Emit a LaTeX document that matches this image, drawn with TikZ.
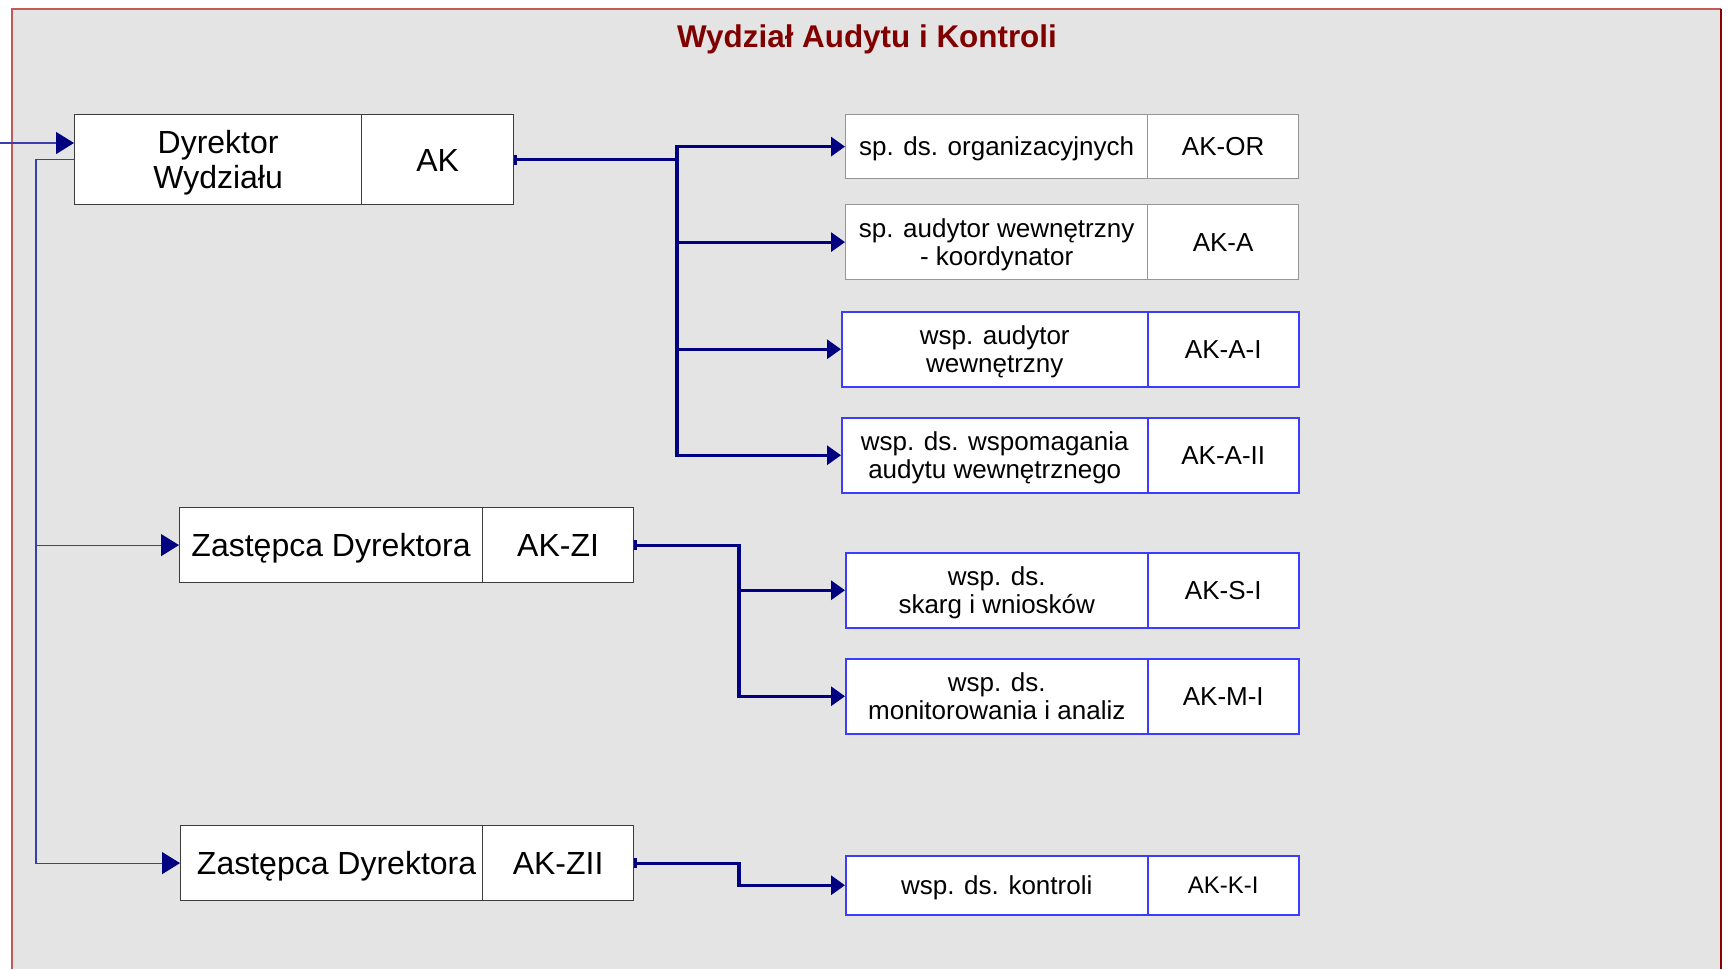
\documentclass[tikz,border=0pt]{standalone}
\usepackage{fontspec}
\setmainfont{Liberation Sans}
\usetikzlibrary{arrows.meta}
\definecolor{navyline}{RGB}{0,0,128}
\definecolor{thinline}{RGB}{60,60,170}
\definecolor{framebg}{RGB}{228,228,228}
\definecolor{frameedge}{RGB}{195,90,90}
\definecolor{frameright}{RGB}{140,0,0}
\definecolor{titlered}{RGB}{128,0,0}
\definecolor{boxblue}{RGB}{60,60,255}
\definecolor{boxgray}{RGB}{150,150,150}
\definecolor{boxdark}{RGB}{60,60,60}
\begin{document}
\begin{tikzpicture}[x=0.5pt,y=-0.5pt,
  box/.style={draw, fill=white, rectangle, anchor=north west, inner sep=1pt, align=center, line width=0.6pt},
  onebig/.style={text height=11.5pt, text depth=0pt},
  onesmall/.style={text height=9.3pt, text depth=0pt},
  onetiny/.style={text height=8.6pt, text depth=0pt},
  twoline/.style={text depth=0pt},
  bigtext/.style={font=\fontsize{16}{17.5}\selectfont},
  smalltext/.style={font=\fontsize{13}{14.3}\selectfont},
  darkbox/.style={box, draw=boxdark},
  graybox/.style={box, draw=boxgray},
  bluebox/.style={box, draw=boxblue, line width=0.75pt},
  lefttop/.style={minimum width=143.5pt, minimum height=45pt},
  righttop/.style={minimum width=76pt, minimum height=45pt},
  zleft/.style={minimum width=151.5pt, minimum height=37.5pt},
  zright/.style={minimum width=75.5pt, minimum height=37.5pt},
  rleft/.style={minimum width=151pt},
  rwide/.style={minimum width=153pt},
  rright/.style={minimum width=75.5pt},
  mainlink/.style={draw=navyline, line width=1.6pt, {Bar[width=5pt,line width=1.2pt]}-{Triangle[length=7pt,width=9.5pt]}},
  sublink/.style={draw=thinline, line width=0.6pt, -{Triangle[length=9pt,width=11pt,color=navyline]}}
]
\useasboundingbox (0,0) rectangle (1729,969);
% frame
\fill[framebg] (12,9) rectangle (1721,969);
\draw[frameedge, line width=0.6pt] (12,969) -- (12,9) -- (1721,9);
\draw[frameright, line width=1pt] (1721,9) -- (1721,969);
% title
\node[font=\fontsize{15.7}{18}\selectfont\bfseries, text=titlered] (title) at (867,39) {Wydział Audytu i Kontroli};
% left boxes
\node[darkbox, bigtext, lefttop, twoline] (dir) at (74,114) {Dyrektor\\Wydziału};
\node[darkbox, bigtext, righttop, onebig] (dirc) at (361,114) {AK};
\node[darkbox, bigtext, zleft, onebig] (zi) at (179,507) {Zastępca Dyrektora};
\node[darkbox, bigtext, zright, onebig] (zic) at (482,507) {AK-ZI};
\node[darkbox, bigtext, zleft, onebig, minimum width=151pt] (zii) at (180,825) {\hspace*{5pt}Zastępca Dyrektora};
\node[darkbox, bigtext, zright, onebig] (ziic) at (482,825) {AK-ZII};
% right boxes
\node[graybox, smalltext, rleft, onesmall, minimum height=32pt] (or) at (845,114) {sp. ds. organizacyjnych};
\node[graybox, smalltext, rright, onesmall, minimum height=32pt] (orc) at (1147,114) {AK-OR};
\node[graybox, smalltext, rleft, twoline, minimum height=37.5pt] (a) at (845,204) {sp. audytor wewnętrzny\\- koordynator};
\node[graybox, smalltext, rright, onesmall, minimum height=37.5pt] (ac) at (1147,204) {AK-A};
\node[bluebox, smalltext, rwide, twoline, minimum height=37.5pt] (ai) at (841,311) {wsp. audytor\\wewnętrzny};
\node[bluebox, smalltext, rright, onesmall, minimum height=37.5pt] (aic) at (1147,311) {AK-A-I};
\node[bluebox, smalltext, rwide, twoline, minimum height=37.5pt] (aii) at (841,417) {wsp. ds. wspomagania\\audytu wewnętrznego};
\node[bluebox, smalltext, rright, onesmall, minimum height=37.5pt] (aiic) at (1147,417) {AK-A-II};
\node[bluebox, smalltext, rleft, twoline, minimum height=37.5pt] (si) at (845,552) {wsp. ds.\\skarg i wniosków};
\node[bluebox, smalltext, rright, onesmall, minimum height=37.5pt] (sic) at (1147,552) {AK-S-I};
\node[bluebox, smalltext, rleft, twoline, minimum height=37.5pt] (mi) at (845,658) {wsp. ds.\\monitorowania i analiz};
\node[bluebox, smalltext, rright, onesmall, minimum height=37.5pt] (mic) at (1147,658) {AK-M-I};
\node[bluebox, smalltext, rleft, onesmall, minimum height=29.5pt] (ki) at (845,855) {wsp. ds. kontroli};
\node[bluebox, font=\fontsize{12}{14}\selectfont, rright, onetiny, minimum height=29.5pt] (kic) at (1147,855) {AK-K-I};
% trunk coordinates
\coordinate (t1) at (677,0);
\coordinate (t2) at (739,0);
\coordinate (inlet) at (0,143);
\coordinate (spine) at (36,0);
% main connectors
\draw[mainlink] (dirc.east) -- (dirc.east -| t1) |- (or.west);
\draw[mainlink] (dirc.east) -- (dirc.east -| t1) |- (a.west);
\draw[mainlink] (dirc.east) -- (dirc.east -| t1) |- (ai.west);
\draw[mainlink] (dirc.east) -- (dirc.east -| t1) |- (aii.west);
\draw[mainlink] (zic.east) -- (zic.east -| t2) |- (si.west);
\draw[mainlink] (zic.east) -- (zic.east -| t2) |- (mi.west);
\draw[mainlink] (ziic.east) -- (ziic.east -| t2) |- (ki.west);
% thin connectors
\draw[sublink] (inlet) -- (dir.west |- inlet);
\draw[sublink] (dir.west) -- (dir.west -| spine) |- (zi.west);
\draw[sublink] (dir.west) -- (dir.west -| spine) |- (zii.west);
\end{tikzpicture}
\end{document}
